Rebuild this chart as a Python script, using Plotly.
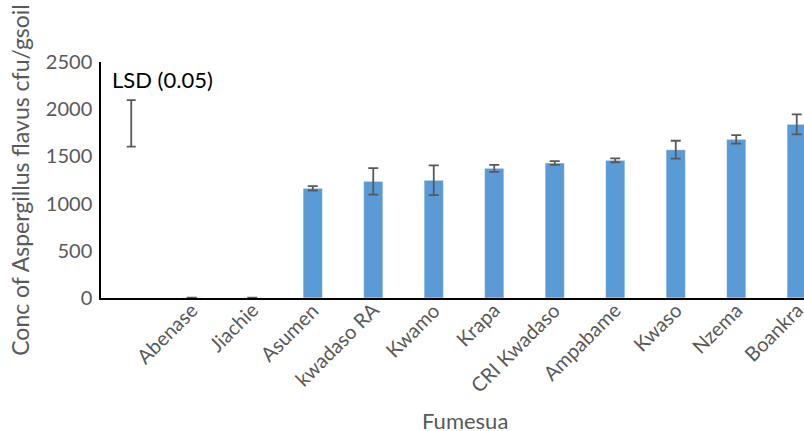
import plotly.graph_objects as go

# Sites sampled, with the LSD bar occupying the first (unlabelled) slot
sites = ["", "Abenase", "Jiachie", "Asumen", "kwadaso RA", "Kwamo", "Krapa",
         "CRI Kwadaso", "Ampabame", "Kwaso", "Nzema", "Boankra"]
conc = [None, 3, 3, 1162, 1236, 1247, 1374, 1430, 1459, 1571, 1681, 1840]
conc_err = [None, 2, 2, 23, 140, 157, 37, 20, 21, 95, 45, 106]

# LSD (0.05) drawn as a free-standing error bar
lsd_centre = 1850
lsd_half = 247

positions = list(range(len(sites)))
blue = "#5B9BD5"
grey = "#595959"
font_family = "Lato, 'Open Sans', sans-serif"

fig = go.Figure()

fig.add_trace(go.Bar(
    x=positions[1:],
    y=conc[1:],
    width=0.32,
    marker=dict(color=blue, line=dict(color="rgba(255,255,255,0.55)", width=1)),
    error_y=dict(type="data", array=conc_err[1:], visible=True,
                 color=grey, thickness=1.8, width=5),
    showlegend=False,
))

fig.add_trace(go.Scatter(
    x=[positions[0]],
    y=[lsd_centre],
    mode="markers",
    marker=dict(size=1, color="rgba(0,0,0,0)"),
    error_y=dict(type="data", array=[lsd_half], visible=True,
                 color=grey, thickness=1.8, width=4.5),
    showlegend=False,
    hoverinfo="skip",
))

# Slanted category labels hung just under the axis line
for pos, name in zip(positions, sites):
    if not name:
        continue
    fig.add_annotation(
        x=pos, y=0, xref="x", yref="paper",
        text=name, textangle=-45, showarrow=False,
        xanchor="right", yanchor="top", xshift=13, yshift=3,
        font=dict(family=font_family, size=20, color=grey),
    )

fig.add_annotation(
    x=(112 - 101) / 703, y=2500 * 0.925, xref="paper", yref="y",
    text="LSD (0.05)", showarrow=False, xanchor="left", yanchor="middle",
    xshift=-2,
    font=dict(family=font_family, size=22, color="black"),
)

# axis title placed under the full category band
fig.add_annotation(
    x=(465 - 101) / 703, y=-(420 - 298) / 236, xref="paper", yref="paper",
    text="Fumesua", showarrow=False, xanchor="center", yanchor="middle",
    font=dict(family=font_family, size=22, color=grey),
)

fig.update_layout(
    width=804, height=431,
    margin=dict(l=101, r=0, t=62, b=133),
    paper_bgcolor="white", plot_bgcolor="white",
    font=dict(family=font_family, color=grey),
    bargap=0.68,
)

fig.update_xaxes(
    range=[-0.5, 11.12],
    tickmode="array", tickvals=positions, showticklabels=False,
    showline=True, linecolor="black", linewidth=2,
    showgrid=False, zeroline=False, ticks="",
)

fig.update_yaxes(
    range=[0, 2500], tickmode="array", tickvals=[0, 500, 1000, 1500, 2000, 2500],
    tickfont=dict(size=20, color=grey), ticklabelstandoff=3,
    title=dict(text="Conc of Aspergillus flavus cfu/gsoil",
               font=dict(size=23, color=grey), standoff=10),
    showline=True, linecolor="black", linewidth=1.5,
    showgrid=False, zeroline=False, ticks="",
)

fig.write_html("out.html")
